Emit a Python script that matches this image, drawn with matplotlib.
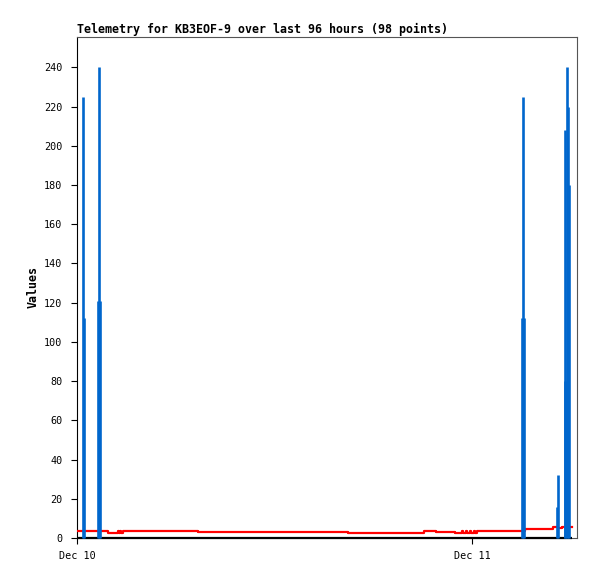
import matplotlib
matplotlib.use("Agg")
import matplotlib.pyplot as plt
import matplotlib.dates as mdates
import pandas as pd

# ---- data (minutes after Dec 10 00:00) ----
start = pd.Timestamp("2023-12-10 00:00")

blue_minutes = [22, 26, 77, 80, 84, 1622, 1626, 1630, 1749, 1753, 1778, 1781, 1786, 1791, 1795]
blue_values = [225, 112, 121, 240, 121, 112, 225, 112, 16, 32, 80, 208, 240, 220, 180]

red_minutes = [0, 90, 113, 148, 152, 157, 162, 168, 442, 988, 1265, 1309, 1378,
               1403, 1408, 1418, 1423, 1433, 1438, 1447, 1452, 1460, 1633, 1735,
               1752, 1768, 1780, 1803]
red_values = [3.7, 3.4, 2.7, 3.7, 2.7, 3.7, 2.7, 3.7, 3.2, 2.7, 3.8, 3.3, 2.8,
              3.6, 2.8, 3.6, 2.8, 3.6, 2.8, 3.6, 2.8, 3.8, 4.7, 5.6,
              5.1, 5.6, 5.6, 5.6]

black_minutes = [0, 1803]
black_values = [0, 0]

title = "Telemetry for KB3EOF-9 over last 96 hours (98 points)"
y_label = "Values"
y_ticks = list(range(0, 241, 20))
x_end_minutes = 1823
y_top = 255.5


def to_time(mins):
    return [start + pd.Timedelta(minutes=m) for m in mins]


mono = ["DejaVu Sans Mono"]

fig = plt.figure(figsize=(5.97, 5.79), dpi=100)
ax = fig.add_axes([77 / 597, 1 - 538 / 579, 500 / 597, 501 / 579])

ax.plot(to_time(black_minutes), black_values, color="black", lw=1.6, zorder=5,
        solid_capstyle="butt", clip_on=False)
ax.plot(to_time(red_minutes), red_values, color="#ff0000", lw=1.6,
        drawstyle="steps-post", zorder=3)
ax.vlines(to_time(blue_minutes), 0, blue_values, color="#0066cc", lw=1.9, zorder=6,
          clip_on=False)

ax.set_xlim(start, start + pd.Timedelta(minutes=x_end_minutes))
ax.set_ylim(0, y_top)
ax.set_yticks(y_ticks)
ax.xaxis.set_major_locator(mdates.DayLocator())
ax.xaxis.set_major_formatter(mdates.DateFormatter("%b %d"))

for s in ["top", "right", "bottom"]:
    ax.spines[s].set_color("#555555")
    ax.spines[s].set_linewidth(0.8)
ax.spines["left"].set_color("black")
ax.spines["left"].set_linewidth(0.8)

ax.tick_params(axis="both", direction="out", length=4.5, width=0.8, color="black",
               labelsize=7.3)
ax.tick_params(axis="y", pad=6)
ax.tick_params(axis="x", pad=5)
for lab in ax.get_xticklabels() + ax.get_yticklabels():
    lab.set_family(mono)

ax.set_title(title, loc="left", fontsize=8.4, fontweight="bold", family=mono, pad=3)
ax.set_ylabel(y_label, fontsize=8.4, fontweight="bold", family=mono, labelpad=3.5)

fig.savefig("out.png", dpi=100)
